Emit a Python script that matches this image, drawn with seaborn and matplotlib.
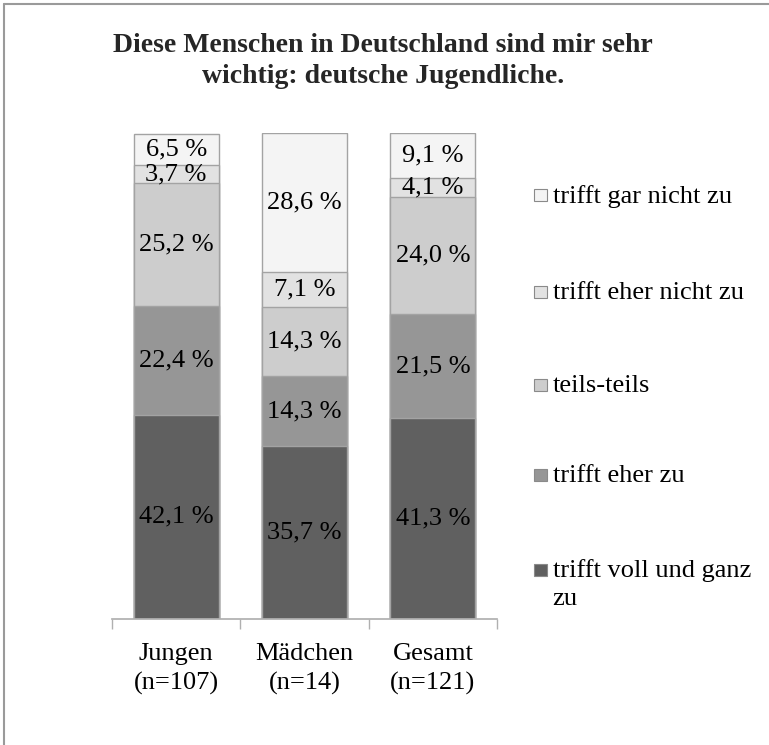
import matplotlib
matplotlib.use("Agg")
import matplotlib.pyplot as plt
import seaborn as sns
import pandas as pd
import numpy as np
from matplotlib.patches import Rectangle
from matplotlib.lines import Line2D

# data
groups = ["Jungen\n(n=107)", "Mädchen\n(n=14)", "Gesamt\n(n=121)"]
levels = ["trifft voll und ganz zu", "trifft eher zu", "teils-teils",
          "trifft eher nicht zu", "trifft gar nicht zu"]
voll = [42.1, 35.7, 41.3]
eher = [22.4, 14.3, 21.5]
teils = [25.2, 14.3, 24.0]
eher_nicht = [3.7, 7.1, 4.1]
gar_nicht = [6.5, 28.6, 9.1]
colors = ["#606060", "#969696", "#cdcdcd", "#e2e2e2", "#f4f4f4"]

sns.set_theme(style="white")
plt.rcParams["font.family"] = ["Liberation Serif", "DejaVu Serif"]

values = np.array([voll, eher, teils, eher_nicht, gar_nicht])
cum = values.cumsum(axis=0)

fig = plt.figure(figsize=(7.69, 7.45), dpi=100)
ax = fig.add_axes([0.1456, 0.169, 0.5007, 0.652])

# stacked bars: draw tallest cumulative first
for i in range(len(levels) - 1, -1, -1):
    df = pd.DataFrame({"group": groups, "cum": cum[i]})
    sns.barplot(data=df, x="group", y="cum", color=colors[i], width=0.664,
                edgecolor="#a3a3a3", linewidth=1.0, saturation=1, ax=ax)

# value labels in segment centers
for i in range(len(levels)):
    for j in range(len(groups)):
        yc = cum[i][j] - values[i][j] / 2
        ax.text(j, yc, f"{values[i][j]:.1f} %".replace(".", ","),
                ha="center", va="center", fontsize=19, color="black")

ax.set_xlim(-0.5, 2.5)
ax.set_ylim(0, 100)
ax.set_xlabel("")
ax.set_ylabel("")
ax.set_yticks([])
for s in ["top", "right", "left"]:
    ax.spines[s].set_visible(False)
ax.spines["bottom"].set_color("#b0b0b0")
ax.set_xticks([-0.5, 0.5, 1.5, 2.5], minor=True)
ax.tick_params(axis="x", which="minor", length=7, color="#b0b0b0", direction="out", bottom=True)
ax.tick_params(axis="x", which="major", length=0, pad=17, labelsize=19, labelcolor="black")
for t in ax.get_xticklabels():
    t.set_linespacing(1.4)

# legend drawn by hand so marker sits at the first line of the wrapped label
leg_y = [0.738, 0.608, 0.483, 0.362, 0.235]
for k, i in enumerate(range(len(levels) - 1, -1, -1)):
    y = leg_y[k]
    fig.patches.append(Rectangle((0.6945, y - 0.008), 0.0165, 0.016,
                                 transform=fig.transFigure, facecolor=colors[i],
                                 edgecolor="#8a8a8a", linewidth=0.8))
    label = "trifft voll und ganz\nzu" if i == 0 else levels[i]
    fig.text(0.7185, y + 0.014, label, ha="left", va="top", fontsize=19,
             linespacing=1.35, color="black")

fig.text(0.498, 0.918, "Diese Menschen in Deutschland sind mir sehr\nwichtig: deutsche Jugendliche.",
         ha="center", va="center", fontsize=20, fontweight="bold", linespacing=1.3)

# outer frame (top and left edges only)
fig.add_artist(Line2D([0.005, 0.005], [0, 0.995], transform=fig.transFigure, color="#9a9a9a", lw=1.5))
fig.add_artist(Line2D([0.005, 1], [0.995, 0.995], transform=fig.transFigure, color="#9a9a9a", lw=1.5))

fig.savefig("out.png", dpi=100)
